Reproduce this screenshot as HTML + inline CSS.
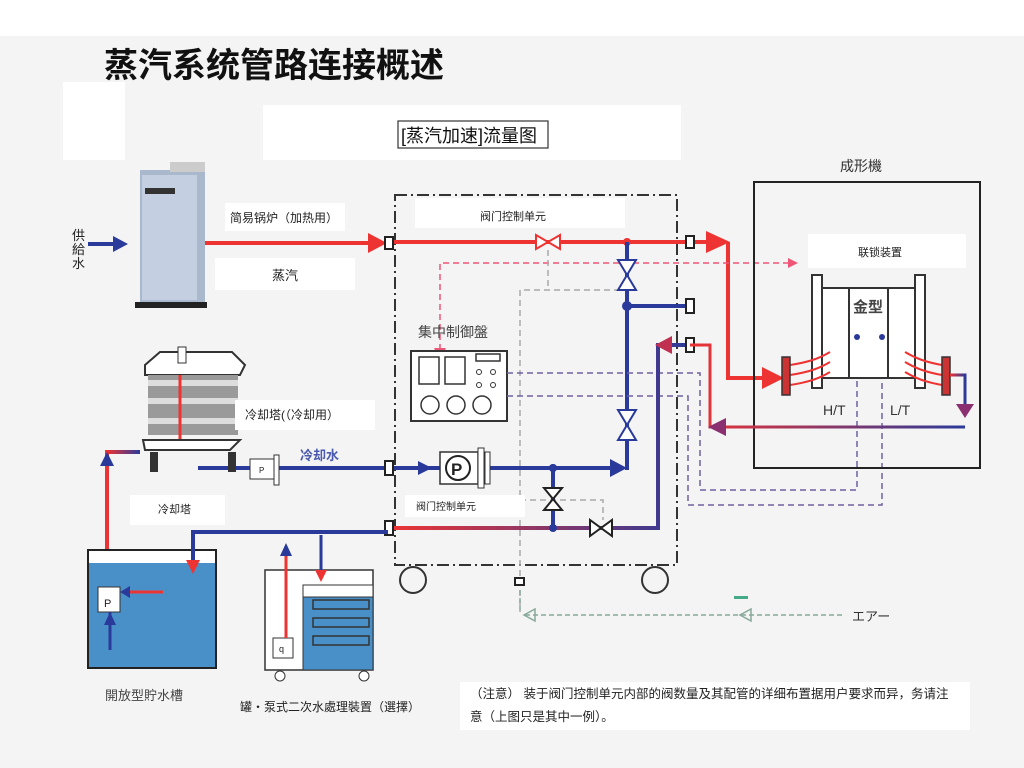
<!DOCTYPE html>
<html><head><meta charset="utf-8"><style>
html,body{margin:0;padding:0;background:#f3f3f3;}
svg{display:block}
text{font-family:"Liberation Sans","Noto Sans CJK SC",sans-serif;}
</style></head><body>
<svg width="1024" height="768" viewBox="0 0 1024 768" xmlns="http://www.w3.org/2000/svg">
<defs>
<linearGradient id="rb" x1="0" y1="0" x2="1" y2="0"><stop offset="0" stop-color="#e33"/><stop offset="1" stop-color="#2a3a9a"/></linearGradient>
</defs>
<rect width="1024" height="768" fill="#f4f4f4"/>
<rect width="1024" height="36" fill="#fff"/>
<rect x="63" y="82" width="62" height="78" fill="#fff"/>
<rect x="263" y="105" width="418" height="55" fill="#fff"/>
<text x="104" y="77" font-size="34" font-weight="bold" fill="#111">蒸汽系统管路连接概述</text>
<rect x="398" y="121" width="150" height="27" fill="#fff" stroke="#333" stroke-width="1.2"/>
<text x="401" y="142" font-size="18" fill="#111" font-family="Liberation Serif,Noto Serif CJK SC,serif">[蒸汽加速]流量图</text>

<!-- boiler -->
<rect x="140" y="170" width="65" height="135" fill="#a9b8cc"/>
<rect x="142" y="175" width="55" height="125" fill="#c4d0e2"/>
<rect x="145" y="188" width="30" height="6" fill="#333"/>
<rect x="135" y="302" width="72" height="6" fill="#222"/>
<rect x="170" y="162" width="35" height="10" fill="#ccc"/>
<text x="72" y="240" font-size="13" fill="#222">供</text><text x="72" y="254" font-size="13" fill="#222">給</text><text x="72" y="268" font-size="13" fill="#222">水</text>
<line x1="88" y1="244" x2="115" y2="244" stroke="#2a3a9a" stroke-width="4"/><polygon points="113,236 128,244 113,252" fill="#2a3a9a"/>

<!-- steam line -->
<rect x="225" y="203" width="120" height="28" fill="#fff"/>
<text x="230" y="222" font-size="12" fill="#222">简易锅炉（加热用）</text>
<rect x="215" y="258" width="140" height="32" fill="#fff"/>
<text x="272" y="280" font-size="13" fill="#222">蒸汽</text>
<line x1="205" y1="243" x2="372" y2="243" stroke="#e33" stroke-width="4"/>
<polygon points="368,233 387,243 368,253" fill="#e33"/>

<!-- dash-dot box -->
<rect x="395" y="195" width="282" height="370" fill="none" stroke="#333" stroke-width="2" stroke-dasharray="12,4,2,4"/>
<rect x="415" y="198" width="210" height="30" fill="#fff"/>
<text x="480" y="220" font-size="11" fill="#222">阀门控制单元</text>

<!-- top red line -->
<line x1="390" y1="242" x2="715" y2="242" stroke="#e33" stroke-width="4"/>
<polygon points="706,231 730,242 706,253" fill="#e33"/>
<polyline points="728,242 728,378 770,378" fill="none" stroke="#e33" stroke-width="4"/>
<polygon points="762,367 784,378 762,389" fill="#e33"/>
<polygon points="536,235 536,249 560,235 560,249" fill="#fff" stroke="#e33" stroke-width="2"/>
<circle cx="627" cy="242" r="4" fill="#e33"/>

<!-- pink dashed -->
<polyline points="440,360 440,263 795,263" fill="none" stroke="#e57" stroke-width="1.5" stroke-dasharray="6,4"/>
<polygon points="434,348 446,348 440,360" fill="#e57"/>
<polygon points="788,258 798,263 788,268" fill="#e57"/>

<!-- gray dashed -->
<g fill="none" stroke="#aaa" stroke-width="1.5" stroke-dasharray="6,4">
<line x1="548" y1="250" x2="548" y2="288"/>
<polyline points="620,290 520,290 520,612"/>
<polyline points="520,500 603,500 603,520"/>
</g>

<!-- blue vertical -->
<line x1="627" y1="242" x2="627" y2="470" stroke="#2a3a9a" stroke-width="4"/>
<line x1="627" y1="306" x2="690" y2="306" stroke="#2a3a9a" stroke-width="4"/>
<circle cx="627" cy="306" r="5" fill="#2a3a9a"/>
<polygon points="618,260 636,260 618,290 636,290" fill="#fff" stroke="#2a3a9a" stroke-width="2"/>
<polygon points="618,410 636,410 618,440 636,440" fill="#fff" stroke="#2a3a9a" stroke-width="2"/>

<!-- control panel -->
<text x="418" y="337" font-size="14" fill="#444">集中制御盤</text>
<rect x="411" y="351" width="96" height="70" fill="#fff" stroke="#333" stroke-width="2"/>
<rect x="419" y="357" width="20" height="27" fill="none" stroke="#333" stroke-width="1.5"/>
<rect x="445" y="357" width="20" height="27" fill="none" stroke="#333" stroke-width="1.5"/>
<rect x="476" y="354" width="24" height="7" fill="none" stroke="#333" stroke-width="1.5"/>
<circle cx="479" cy="372" r="2.5" fill="none" stroke="#333"/><circle cx="493" cy="372" r="2.5" fill="none" stroke="#333"/>
<circle cx="479" cy="385" r="2.5" fill="none" stroke="#333"/><circle cx="493" cy="385" r="2.5" fill="none" stroke="#333"/>
<circle cx="430" cy="405" r="9" fill="none" stroke="#333" stroke-width="1.5"/>
<circle cx="456" cy="405" r="9" fill="none" stroke="#333" stroke-width="1.5"/>
<circle cx="482" cy="405" r="9" fill="none" stroke="#333" stroke-width="1.5"/>

<!-- purple dashed -->
<g fill="none" stroke="#7060a0" stroke-width="1.5" stroke-dasharray="6,4">
<polyline points="507,373 700,373 700,490 857,490 857,340"/>
<polyline points="507,396 688,396 688,505 882,505 882,340"/>
</g>

<!-- return line -->
<polyline points="388,528 658,528 658,345 690,345" fill="none" stroke="url(#rb)" stroke-width="4"/>
<polygon points="672,336 655,345 672,354" fill="#c03050"/>
<line x1="553" y1="468" x2="553" y2="528" stroke="#2a3a9a" stroke-width="4"/>
<circle cx="553" cy="468" r="4" fill="#2a3a9a"/><circle cx="553" cy="528" r="4" fill="#2a3a9a"/>
<polygon points="544,488 562,488 544,510 562,510" fill="#fff" stroke="#222" stroke-width="2"/>
<polygon points="590,520 590,536 612,520 612,536" fill="#fff" stroke="#222" stroke-width="2"/>
<rect x="405" y="495" width="120" height="22" fill="#fff"/>
<text x="416" y="510" font-size="10" fill="#222">阀门控制单元</text>

<!-- cooling water line -->
<line x1="198" y1="468" x2="620" y2="468" stroke="#2a3a9a" stroke-width="4"/>
<polygon points="418,461 432,468 418,475" fill="#2a3a9a"/>
<polygon points="610,459 627,468 610,477" fill="#2a3a9a"/>
<circle cx="553" cy="468" r="4" fill="#2a3a9a"/>
<rect x="440" y="452" width="38" height="32" fill="#fff" stroke="#333" stroke-width="1.5"/>
<circle cx="458" cy="468" r="12" fill="#fff" stroke="#222" stroke-width="2"/>
<text x="451" y="475" font-size="17" font-weight="bold" fill="#222">P</text>
<rect x="478" y="448" width="6" height="40" fill="#fff" stroke="#333"/><rect x="485" y="452" width="5" height="32" fill="#fff" stroke="#333"/>
<text x="300" y="460" font-size="13" font-weight="bold" fill="#4a5ab0">冷却水</text>
<rect x="250" y="459" width="24" height="20" fill="#fff" stroke="#333"/>
<rect x="274" y="455" width="5" height="30" fill="#fff" stroke="#333"/>
<text x="259" y="473" font-size="8" fill="#222">P</text>

<!-- connectors -->
<g fill="#fff" stroke="#222" stroke-width="2">
<rect x="385" y="237" width="8" height="12"/>
<rect x="686" y="236" width="8" height="12"/>
<rect x="686" y="299" width="8" height="14"/>
<rect x="686" y="338" width="8" height="14"/>
<rect x="385" y="461" width="8" height="14"/>
<rect x="385" y="521" width="8" height="14"/>
<rect x="515" y="578" width="9" height="7"/>
</g>
<circle cx="413" cy="580" r="13" fill="none" stroke="#333" stroke-width="2"/>
<circle cx="655" cy="580" r="13" fill="none" stroke="#333" stroke-width="2"/>

<!-- molding machine -->
<text x="840" y="171" font-size="14" fill="#333">成形機</text>
<rect x="754" y="182" width="226" height="286" fill="none" stroke="#222" stroke-width="2"/>
<rect x="808" y="234" width="158" height="34" fill="#fff"/>
<text x="858" y="256" font-size="11" fill="#222">联锁装置</text>
<rect x="822" y="288" width="93" height="90" fill="#fff" stroke="#333" stroke-width="2"/>
<line x1="849" y1="288" x2="849" y2="378" stroke="#333" stroke-width="2"/>
<line x1="888" y1="288" x2="888" y2="378" stroke="#333" stroke-width="2"/>
<rect x="812" y="275" width="10" height="113" fill="#fff" stroke="#333" stroke-width="2"/>
<rect x="915" y="275" width="10" height="113" fill="#fff" stroke="#333" stroke-width="2"/>
<text x="853" y="312" font-size="15" font-weight="bold" fill="#444">金型</text>
<circle cx="857" cy="337" r="3" fill="#2a3a9a"/><circle cx="882" cy="337" r="3" fill="#2a3a9a"/>
<g stroke="#e33" stroke-width="2" fill="none">
<path d="M790,365 C810,362 820,358 830,352"/><path d="M790,375 C810,372 820,368 830,362"/><path d="M790,385 C810,382 820,378 830,372"/>
<path d="M942,365 C925,362 915,358 905,352"/><path d="M942,375 C925,372 915,368 905,362"/><path d="M942,385 C925,382 915,378 905,372"/>
</g>
<rect x="782" y="357" width="8" height="38" fill="#c33" stroke="#333" stroke-width="1.5"/>
<rect x="942" y="357" width="8" height="38" fill="#c33" stroke="#333" stroke-width="1.5"/>
<polyline points="950,375 965,375 965,410" fill="none" stroke="url(#rb)" stroke-width="3"/>
<polygon points="956,404 974,404 965,418" fill="#8a3070"/>
<polyline points="965,427 710,427 710,345 690,345" fill="none" stroke="url(#rb)" stroke-width="3"/>
<polygon points="726,418 708,427 726,436" fill="#8a3070"/>
<text x="823" y="415" font-size="14" fill="#333">H/T</text>
<text x="890" y="415" font-size="14" fill="#333">L/T</text>

<!-- cooling tower -->
<path d="M145,365 L160,352 L232,352 L245,365 L240,375 L145,375 Z" fill="#fff" stroke="#333" stroke-width="2"/>
<rect x="178" y="347" width="8" height="16" fill="#fff" stroke="#333"/>
<rect x="148" y="375" width="90" height="60" fill="#9a9a9a"/>
<rect x="148" y="380" width="90" height="6" fill="#ddd"/><rect x="148" y="398" width="90" height="6" fill="#ddd"/><rect x="148" y="418" width="90" height="6" fill="#ddd"/>
<line x1="180" y1="375" x2="180" y2="450" stroke="#e33" stroke-width="3"/>
<path d="M143,440 L145,450 L230,450 L240,440 Z" fill="#fff" stroke="#333" stroke-width="2"/>
<rect x="150" y="452" width="8" height="20" fill="#333"/><rect x="228" y="452" width="8" height="20" fill="#333"/>
<rect x="235" y="400" width="140" height="30" fill="#fff"/>
<text x="245" y="419" font-size="12" fill="#222">冷却塔(（冷却用）</text>
<rect x="130" y="495" width="95" height="30" fill="#fff"/>
<text x="158" y="513" font-size="11" fill="#222">冷却塔</text>
<polyline points="107,595 107,452 140,452" fill="none" stroke="url(#rb)" stroke-width="4"/>
<polygon points="100,466 107,452 114,466" fill="#2a3a9a"/>

<!-- open tank -->
<rect x="88" y="550" width="128" height="118" fill="#fff" stroke="#222" stroke-width="2"/>
<rect x="89" y="563" width="126" height="104" fill="#4a90c8"/>
<rect x="98" y="587" width="22" height="25" fill="#fff" stroke="#333"/>
<text x="104" y="607" font-size="11" fill="#222">P</text>
<line x1="122" y1="592" x2="163" y2="592" stroke="#e33" stroke-width="3"/>
<polygon points="130,586 120,592 130,598" fill="#2a3a9a"/>
<line x1="110" y1="612" x2="110" y2="650" stroke="#2a3a9a" stroke-width="3"/>
<polygon points="104,625 110,612 116,625" fill="#2a3a9a"/>
<polyline points="388,532 193,532 193,570" fill="none" stroke="#2a3a9a" stroke-width="4"/>
<polygon points="186,560 200,560 193,574" fill="#e33"/>
<text x="105" y="700" font-size="13" fill="#444">開放型貯水槽</text>

<!-- secondary -->
<rect x="265" y="570" width="108" height="100" fill="#fff" stroke="#333" stroke-width="1.5"/>
<rect x="303" y="585" width="70" height="85" fill="#4a90c8" stroke="#333"/>
<rect x="303" y="585" width="70" height="12" fill="#fff" stroke="#333"/>
<rect x="313" y="600" width="56" height="9" fill="none" stroke="#333" stroke-width="1.5"/>
<rect x="313" y="618" width="56" height="9" fill="none" stroke="#333" stroke-width="1.5"/>
<rect x="313" y="636" width="56" height="9" fill="none" stroke="#333" stroke-width="1.5"/>
<rect x="273" y="638" width="20" height="20" fill="#fff" stroke="#333"/>
<text x="279" y="652" font-size="9" fill="#222">q</text>
<line x1="286" y1="548" x2="286" y2="638" stroke="#e33" stroke-width="3"/>
<polygon points="280,556 286,543 292,556" fill="#2a3a9a"/>
<line x1="321" y1="535" x2="321" y2="577" stroke="#2a3a9a" stroke-width="3"/>
<polygon points="315,570 327,570 321,582" fill="#e33"/>
<circle cx="280" cy="676" r="5" fill="#fff" stroke="#333"/><circle cx="364" cy="676" r="5" fill="#fff" stroke="#333"/>
<text x="240" y="711" font-size="12" fill="#222">罐・泵式二次水處理裝置（選擇）</text>

<!-- air line -->
<g fill="none" stroke="#8a9" stroke-width="1.5" stroke-dasharray="5,3">
<line x1="520" y1="590" x2="520" y2="610"/>
<line x1="525" y1="615" x2="845" y2="615"/>
</g>
<polygon points="524,615 535,609 535,621" fill="none" stroke="#8a9" stroke-width="1.5"/>
<polygon points="740,615 751,609 751,621" fill="none" stroke="#8a9" stroke-width="1.5"/>
<rect x="734" y="596" width="14" height="3" fill="#4a8"/>
<text x="852" y="621" font-size="13" fill="#333">エアー</text>

<!-- note -->
<rect x="460" y="682" width="510" height="48" fill="#fff"/>
<text x="470" y="698" font-size="12.5" fill="#222">（注意） 装于阀门控制单元内部的阀数量及其配管的详细布置据用户要求而异，务请注</text>
<text x="470" y="721" font-size="12.5" fill="#222">意（上图只是其中一例）。</text>
</svg>
</body></html>
